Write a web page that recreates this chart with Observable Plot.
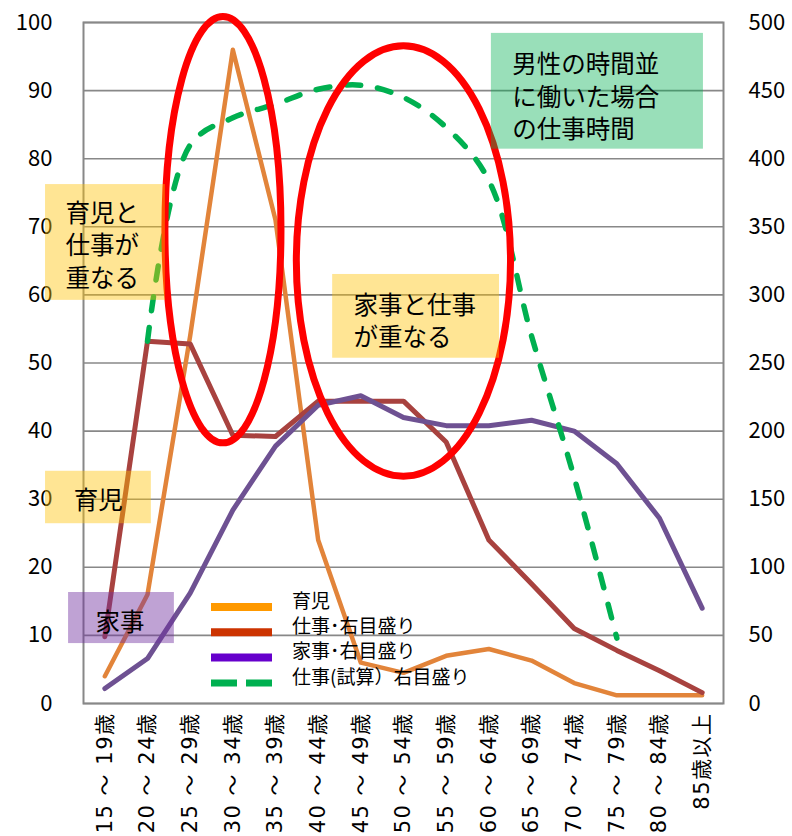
<!DOCTYPE html>
<html>
<head>
<meta charset="utf-8">
<script src="https://cdn.jsdelivr.net/npm/d3@7"></script>
<script src="https://cdn.jsdelivr.net/npm/@observablehq/plot@0.6"></script>
<style>
  html, body { margin: 0; padding: 0; background: #fff; }
  #chart svg { display: block; overflow: visible; }
</style>
</head>
<body>
<div id="chart"></div>
<script>
// ---- Data ----
const ages = ["15 ～ 19歳","20 ～ 24歳","25 ～ 29歳","30 ～ 34歳","35 ～ 39歳","40 ～ 44歳","45 ～ 49歳","50 ～ 54歳","55 ～ 59歳","60 ～ 64歳","65 ～ 69歳","70 ～ 74歳","75 ～ 79歳","80 ～ 84歳","85歳以上"];
// 育児 (left axis)
const childcare = [4, 16, 54, 96, 71, 24, 6, 4.5, 7, 8, 6.3, 3, 1.2, 1.2, 1.2];
// 仕事・右目盛り (right axis)
const work = [49, 266, 264, 197, 196, 222, 222, 222, 192, 120, 88, 55, 39, 24, 8];
// 家事・右目盛り (right axis)
const housework = [11, 33, 81, 142, 189, 219, 226, 210, 204, 204, 208, 200, 176, 136, 70];
// 仕事(試算) 右目盛り (right axis)
const workEstimate = [null, 266, 410, 430, 440, 451, 454, 445, 423, 384, 270, 166, 48, null, null];

const leftTicks = [0, 10, 20, 30, 40, 50, 60, 70, 80, 90, 100];
const rightTicks = [0, 50, 100, 150, 200, 250, 300, 350, 400, 450, 500];
const rightPerLeft = 5; // right axis 500 == left axis 100

const legendLabels = ["育児", "仕事･右目盛り", "家事･右目盛り", "仕事(試算）右目盛り"];

// annotation boxes (x in category-index units, y in left-axis units)
const boxText = ["育児と\n仕事が\n重なる", "家事と仕事\nが重なる", "育児", "家事", "男性の時間並\nに働いた場合\nの仕事時間"];
const boxX1 = [-1.39, 5.34, -1.39, -0.85, 9.06];
const boxX2 = [1.42, 9.25, 1.09, 1.63, 14.03];
const boxY1 = [59.2, 50.7, 26.4, 8.8, 81.4];
const boxY2 = [76.2, 63.0, 34.1, 16.3, 98.4];
const boxTextX = [-0.92, 5.83, -0.73, -0.22, 9.55];
const boxTextY = [67.5, 56.4, 30.1, 12.2, 89.3];
// ellipses (center & radii in data units)
const ellCx = [2.78, 7.01];
const ellCy = [69.5, 64.9];
const ellRx = [1.36, 2.51];
const ellRy = [31.3, 31.6];

// ---- Tables ----
const rows = (arr, scale) => ages.map((a, i) => ({i, age: a, v: arr[i] == null ? null : arr[i] / scale})).filter(d => d.v != null);
const childRows = rows(childcare, 1);
const workRows = rows(work, rightPerLeft);
const houseRows = rows(housework, rightPerLeft);
const estRows = rows(workEstimate, rightPerLeft);
const boxes = boxText.map((t, k) => ({t, x1: boxX1[k], x2: boxX2[k], y1: boxY1[k], y2: boxY2[k], tx: boxTextX[k], ty: boxTextY[k]}));

const boxFill = ["#FFC000", "#FFC000", "#FFC000", "#7030A0", "#00B050"];
const boxOpacity = [0.42, 0.42, 0.42, 0.45, 0.4];

const font = '"Noto Sans CJK JP", "Noto Sans", sans-serif';
const tickFont = '"DejaVu Sans", "Noto Sans CJK JP", sans-serif';

const plot = Plot.plot({
  width: 792,
  height: 836,
  marginTop: 22,
  marginBottom: 133,
  marginLeft: 83,
  marginRight: 69,
  x: {domain: [-0.5, ages.length - 0.5]},
  y: {domain: [0, 100]},
  style: {fontFamily: font, fontSize: "22px", color: "#000", background: "#fff"},
  marks: [
    Plot.gridY(leftTicks, {stroke: "#888", strokeOpacity: 1, strokeWidth: 1.6}),
    Plot.frame({stroke: "#888", strokeWidth: 2}),
    Plot.axisY(leftTicks, {anchor: "left", tickSize: 0, tickPadding: 31, fontSize: 22, label: null}),
    Plot.axisY(leftTicks, {anchor: "right", tickSize: 0, tickPadding: 25, fontSize: 22, label: null,
      tickFormat: d => String(rightTicks[leftTicks.indexOf(d)])}),
    Plot.axisX(ages.map((_, i) => i), {tickFormat: i => ages[i], tickRotate: -90, tickSize: 0, tickPadding: 9, fontSize: 21, fontFamily: tickFont, label: null}),
    Plot.line(childRows, {x: "i", y: "v", stroke: "#E2843A", strokeWidth: 4.5, strokeLinejoin: "round"}),
    Plot.line(workRows, {x: "i", y: "v", stroke: "#A8423F", strokeWidth: 5, strokeLinejoin: "round"}),
    Plot.line(houseRows, {x: "i", y: "v", stroke: "#6E5192", strokeWidth: 5, strokeLinejoin: "round"}),
    Plot.line(estRows, {x: "i", y: "v", curve: "catmull-rom", stroke: "#00B050", strokeWidth: 5.5, strokeDasharray: "14,17", strokeLinecap: "round"}),
    ...boxes.map((b, k) => Plot.rect([b], {x1: "x1", x2: "x2", y1: "y1", y2: "y2", fill: boxFill[k], fillOpacity: boxOpacity[k]})),
    Plot.text(boxes, {x: "tx", y: "ty", text: "t", textAnchor: "start", lineAnchor: "middle", lineHeight: 1.33, fontSize: 24.5, fill: "#000"})
  ]
});

// letter spacing on the x tick labels (rotated)
d3.select(plot).selectAll('g[aria-label="x-axis tick label"] text').style("letter-spacing", "1.5px");

// ---- Ellipses (drawn under the boxes, above the lines) ----
const xs = plot.scale("x"), ys = plot.scale("y");
const firstRect = plot.querySelector('g[aria-label="rect"]');
const eg = document.createElementNS("http://www.w3.org/2000/svg", "g");
plot.insertBefore(eg, firstRect);
ellCx.forEach((c, k) => {
  d3.select(eg).append("ellipse")
    .attr("cx", xs.apply(c))
    .attr("cy", ys.apply(ellCy[k]))
    .attr("rx", Math.abs(xs.apply(c + ellRx[k]) - xs.apply(c)))
    .attr("ry", Math.abs(ys.apply(ellCy[k] + ellRy[k]) - ys.apply(ellCy[k])))
    .attr("fill", "none")
    .attr("stroke", "#FF0000")
    .attr("stroke-width", 7);
});

// ---- Legend ----
const legColors = ["#FF9900", "#CC3300", "#6600CC", "#00B050"];
const lg = d3.select(plot).append("g")
  .attr("font-family", font).attr("font-size", 19).attr("text-anchor", "start");
legendLabels.forEach((t, k) => {
  const y = 607 + 25.3 * k;
  lg.append("line").attr("x1", 211).attr("x2", 272).attr("y1", y).attr("y2", y)
    .attr("stroke", legColors[k]).attr("stroke-width", k === 3 ? 7 : 8)
    .attr("stroke-dasharray", k === 3 ? "26,9" : null);
  lg.append("text").attr("x", 292).attr("y", y - 6).attr("dy", "0.35em")
    .attr("text-anchor", "start").attr("fill", "#000").text(t);
});

document.getElementById("chart").appendChild(plot);
</script>
</body>
</html>
